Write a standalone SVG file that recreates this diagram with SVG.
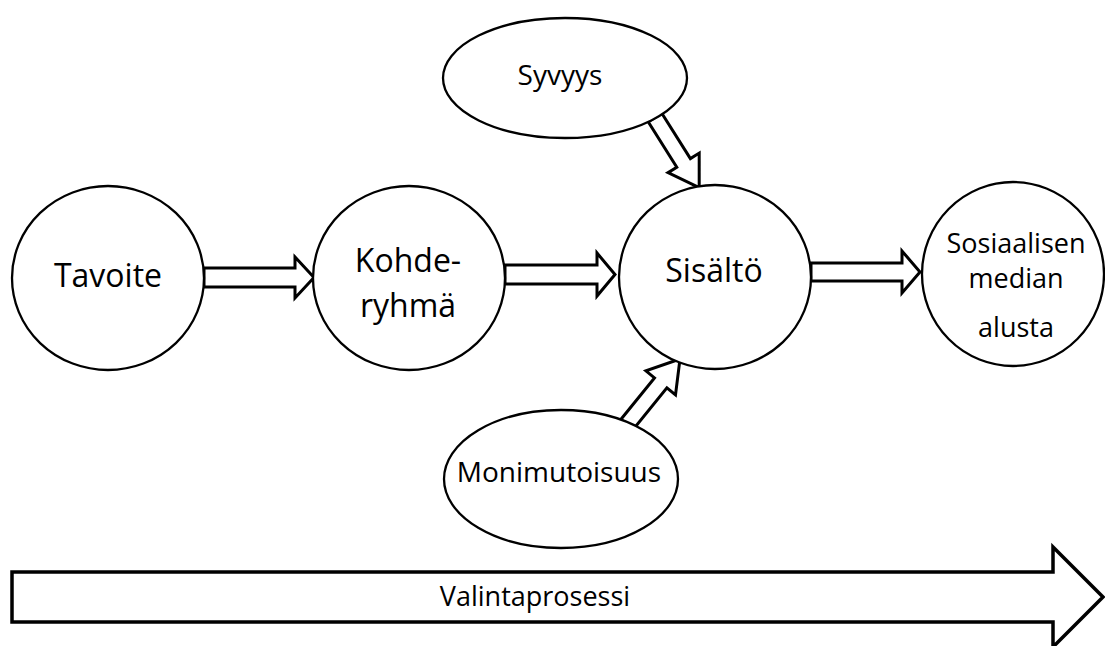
<svg xmlns="http://www.w3.org/2000/svg" width="1105" height="646" viewBox="0 0 1105 646">
  <style>
    .node { fill: #ffffff; stroke: #000000; stroke-width: 2.3; }
    .arrow { fill: #ffffff; stroke: #000000; stroke-width: 3; stroke-linejoin: miter; }
    .lbl { font-family: "Open Sans", "DejaVu Sans", sans-serif; fill: #000000; text-anchor: middle; }
    .big { font-size: 32px; }
    .mid { font-size: 28px; }
    .small { font-size: 27px; }
  </style>
  <rect width="1105" height="646" fill="#ffffff"/>

  <!-- block arrows between the nodes -->
  <g id="connectors">
    <polygon class="arrow" points="204,268 295,268 295,257 314,277.5 295,298 295,287 204,287"/>
    <polygon class="arrow" points="505,265 597,265 597,253 615,274.5 597,296 597,284 505,284"/>
    <polygon class="arrow" points="811,263 902,263 902,251 920,272 902,293 902,281 811,281"/>
    <polygon class="arrow" points="661.8,113.2 690.4,158.6 699.2,153.1 699.2,187.7 668,172.7 676.8,167.2 648.2,121.8"/>
    <polygon class="arrow" points="620.8,419.5 654.5,377.9 645.9,370.9 680,359 675.5,394.9 666.9,387.9 633.2,429.5"/>
  </g>

  <g id="tavoite">
    <ellipse class="node" cx="108" cy="278" rx="96" ry="92"/>
    <text class="lbl big" x="108" y="287">Tavoite</text>
  </g>

  <g id="kohderyhma">
    <ellipse class="node" cx="409" cy="278" rx="96" ry="92"/>
    <text class="lbl big" x="408" y="272">Kohde-</text>
    <text class="lbl big" x="408" y="317">ryhmä</text>
  </g>

  <g id="sisalto">
    <ellipse class="node" cx="715" cy="277" rx="96" ry="92"/>
    <text class="lbl big" x="714" y="282">Sisältö</text>
  </g>

  <g id="alusta">
    <ellipse class="node" cx="1013" cy="274" rx="91" ry="92"/>
    <text class="lbl small" x="1016" y="253">Sosiaalisen</text>
    <text class="lbl small" x="1016" y="288">median</text>
    <text class="lbl small" x="1016" y="337">alusta</text>
  </g>

  <g id="syvyys">
    <ellipse class="node" cx="565" cy="78" rx="122" ry="60"/>
    <text class="lbl mid" x="560" y="85">Syvyys</text>
  </g>

  <g id="monimutoisuus">
    <ellipse class="node" cx="561" cy="479" rx="117" ry="69"/>
    <text class="lbl mid" x="559" y="482">Monimutoisuus</text>
  </g>

  <!-- process arrow along the bottom -->
  <g id="valintaprosessi">
    <polygon class="arrow" style="stroke-width:3.5" points="12,572 1053,572 1053,547 1103,597 1053,647 1053,622 12,622"/>
    <text class="lbl small" x="535" y="606">Valintaprosessi</text>
  </g>
</svg>
